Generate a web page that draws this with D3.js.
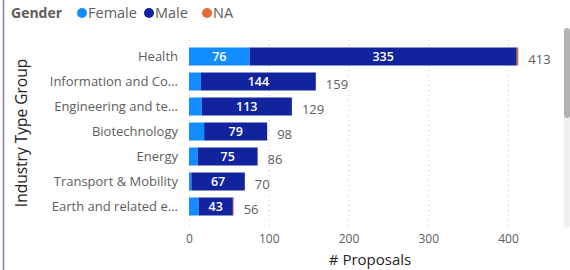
<!DOCTYPE html>
<html>
<head>
<meta charset="utf-8">
<script src="https://cdn.jsdelivr.net/npm/d3@7"></script>
<style>
  body { margin: 0; background: #fff; }
  svg { display: block; font-family: "Open Sans", "Noto Sans", sans-serif; }
</style>
</head>
<body>
<svg id="chart" width="570" height="270"></svg>
<script>
// data
var categories = ["Health", "Information and Co...", "Engineering and te...", "Biotechnology", "Energy", "Transport & Mobility", "Earth and related e..."];
var female = [76, 15, 16, 19, 11, 3, 12];
var male = [335, 144, 113, 79, 75, 67, 43];
var na = [2, 0, 0, 0, 0, 0, 1];
var xTicks = [0, 100, 200, 300, 400];
var seriesNames = ["Female", "Male", "NA"];
var colors = ["#118DFF", "#12239E", "#E66C37"];

var svg = d3.select("#chart");

// left frame border
svg.append("line").attr("x1", 3.5).attr("x2", 3.5).attr("y1", 0).attr("y2", 270)
  .attr("stroke", "#8A7FB0").attr("stroke-width", 1.5);

// build stacked rows
var rows = categories.map(function(c, i) {
  return { cat: c, Female: female[i], Male: male[i], NA: na[i] };
});
var stack = d3.stack().keys(seriesNames)(rows);

var x = d3.scaleLinear().domain([0, 400]).range([189, 508]);
var y = d3.scaleBand().domain(categories).range([45, 218]).paddingInner(0.28).paddingOuter(0.1);

// gridlines
svg.append("g").selectAll("line").data(xTicks).enter().append("line")
  .attr("x1", function(d) { return x(d) + 0.5; })
  .attr("x2", function(d) { return x(d) + 0.5; })
  .attr("y1", 40).attr("y2", 229)
  .attr("stroke", "#C8C6C4").attr("stroke-dasharray", "1,4");

// bars
var layer = svg.append("g").selectAll("g").data(stack).enter().append("g")
  .attr("fill", function(d, i) { return colors[i]; });

layer.selectAll("rect").data(function(d) { return d; }).enter().append("rect")
  .attr("x", function(d) { return x(d[0]); })
  .attr("y", function(d) { return y(d.data.cat); })
  .attr("width", function(d) { return Math.max(0, x(d[1]) - x(d[0])); })
  .attr("height", y.bandwidth());

// labels inside bars (only where the segment is wide enough)
layer.selectAll("text").data(function(d) {
  return d.map(function(p) { return { p: p, key: d.key }; });
}).enter().append("text")
  .filter(function(d) {
    return d.key != "NA" && (x(d.p[1]) - x(d.p[0])) > 30;
  })
  .attr("x", function(d) { return (x(d.p[0]) + x(d.p[1])) / 2; })
  .attr("y", function(d) { return y(d.p.data.cat) + y.bandwidth() / 2; })
  .attr("dy", "0.36em")
  .attr("text-anchor", "middle")
  .attr("fill", "#fff")
  .style("font-size", "12.5px")
  .style("font-weight", "600")
  .text(function(d) { return d.p[1] - d.p[0]; });

// totals
svg.append("g").selectAll("text").data(rows).enter().append("text")
  .attr("x", function(d) { return x(d.Female + d.Male + d.NA) + 10; })
  .attr("y", function(d) { return y(d.cat) + y.bandwidth() / 2 + 2.5; })
  .attr("dy", "0.36em")
  .attr("fill", "#605E5C")
  .style("font-size", "13px")
  .text(function(d) { return d.Female + d.Male + d.NA; });

// y axis
var yAxis = svg.append("g").attr("transform", "translate(180,0)")
  .call(d3.axisLeft(y).tickSize(0).tickPadding(2));
yAxis.select(".domain").remove();
yAxis.selectAll("text").attr("fill", "#605E5C").style("font-size", "13px")
  .style("font-family", "Open Sans, sans-serif");

// x axis
var xAxis = svg.append("g").attr("transform", "translate(0,231)")
  .call(d3.axisBottom(x).tickValues(xTicks).tickSize(0).tickPadding(3));
xAxis.select(".domain").remove();
xAxis.selectAll("text").attr("fill", "#605E5C").style("font-size", "12px")
  .style("font-family", "Open Sans, sans-serif");

// axis titles
svg.append("text").attr("x", 370).attr("y", 265)
  .attr("text-anchor", "middle").attr("fill", "#252423")
  .style("font-size", "15px").text("# Proposals");

svg.append("text").attr("transform", "translate(27,133) rotate(-90)")
  .attr("text-anchor", "middle").attr("fill", "#252423")
  .style("font-size", "15.5px").text("Industry Type Group");

// legend
var legend = svg.append("g");
legend.append("text").attr("x", 11).attr("y", 18)
  .attr("fill", "#605E5C").style("font-size", "14px").style("font-weight", "bold")
  .text("Gender");
var legX = [82, 149, 207];
legend.selectAll("circle").data(seriesNames).enter().append("circle")
  .attr("cx", function(d, i) { return legX[i]; }).attr("cy", 13).attr("r", 5)
  .attr("fill", function(d, i) { return colors[i]; });
legend.selectAll("text.leg").data(seriesNames).enter().append("text")
  .attr("class", "leg")
  .attr("x", function(d, i) { return legX[i] + 6; }).attr("y", 18)
  .attr("fill", "#605E5C").style("font-size", "14.5px")
  .text(function(d) { return d; });

// scrollbar
svg.append("rect").attr("x", 564).attr("y", 28).attr("width", 6).attr("height", 200)
  .attr("rx", 3).attr("fill", "#F0F0F0");
svg.append("rect").attr("x", 564).attr("y", 28).attr("width", 6).attr("height", 90)
  .attr("rx", 3).attr("fill", "#B3B3B3");
</script>
</body>
</html>
